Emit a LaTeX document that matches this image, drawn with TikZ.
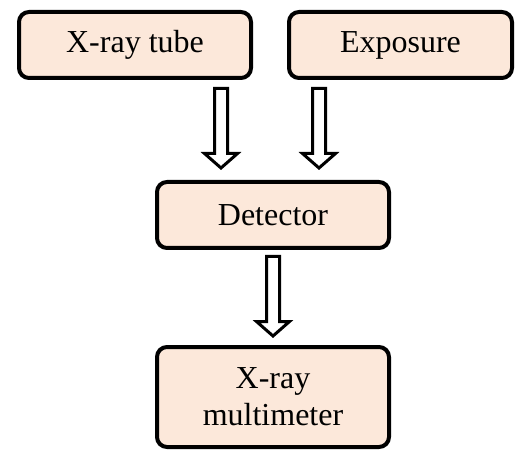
\documentclass[tikz,border=0pt]{standalone}
\usepackage{fontspec}
\setmainfont{Liberation Serif}
\usetikzlibrary{positioning,calc}

\definecolor{peach}{HTML}{FCE8DA}

% hollow block arrow from #1 (top of shaft) to #2 (tip)
\newcommand{\hollowarrow}[2]{%
\path [hollow] let \p1=(#1), \p2=(#2) in
 (\x1-6.5pt,\y1) -- (\x1+6.5pt,\y1) -- (\x1+6.5pt,\y2+14.5pt) --
 (\x1+16.5pt,\y2+14.5pt) -- (\x1,\y2) -- (\x1-16.5pt,\y2+14.5pt) --
 (\x1-6.5pt,\y2+14.5pt) -- cycle;}

\begin{document}
\begin{tikzpicture}[x=1pt, y=1pt]

\tikzstyle{block} = [rectangle, draw, fill=peach, line width=4pt, rounded
corners=10pt, text centered, minimum width=232pt, minimum height=66pt,
font=\fontsize{32}{37}\selectfont]
\tikzstyle{hollow} = [draw, fill=white, line width=3pt, line join=miter]

\useasboundingbox (0,0) rectangle (516,450);

\node [block] (xtube) at (135,405) {X-ray tube};
\node [block, right=34pt of xtube, minimum width=223pt] (expo) {Exposure};

\node [block] (det) at (273,235) {Detector};
\node [block, below=95pt of det, minimum height=100pt, align=center] (xmeter)
  {X-ray\\multimeter};

\coordinate (a1s) at ([xshift=-52pt, yshift=-8.5pt]det.north |- xtube.south);
\coordinate (a1e) at ([xshift=-52pt, yshift=12pt]det.north);
\coordinate (a2s) at ([xshift=46pt, yshift=-8.5pt]det.north |- expo.south);
\coordinate (a2e) at ([xshift=46pt, yshift=12pt]det.north);
\coordinate (a3s) at ([yshift=-6.5pt]det.south);
\coordinate (a3e) at ([yshift=9pt]xmeter.north);

\hollowarrow{a1s}{a1e}
\hollowarrow{a2s}{a2e}
\hollowarrow{a3s}{a3e}
\end{tikzpicture}
\end{document}
